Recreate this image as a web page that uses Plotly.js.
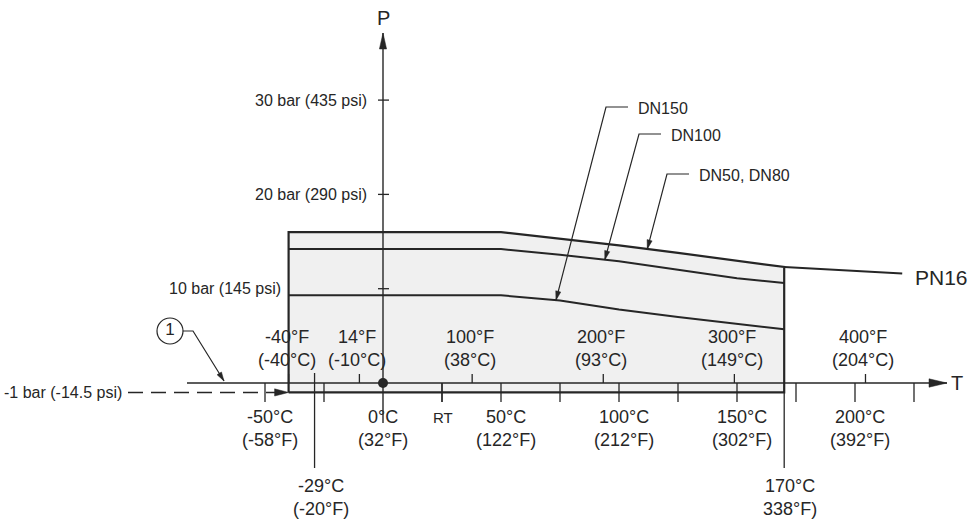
<!DOCTYPE html>
<html><head><meta charset="utf-8">
<script src="https://cdn.plot.ly/plotly-3.0.1.min.js"></script>
<style>html,body{margin:0;padding:0;background:#fff}#chart{width:973px;height:523px}</style>
</head><body><div id="chart"></div>
<script>
// ---------- data ----------
const curveTempsC   = [-40, 50, 75, 100, 125, 150, 170];
const pn16Bar       = [16.0, 16.0, 15.3, 14.6, 13.8, 13.0, 12.3];   // DN50, DN80
const dn100Bar      = [14.2, 14.2, 13.6, 12.9, 12.0, 11.1, 10.6];
const dn150Bar      = [9.3, 9.3, 8.75, 7.8, 7.0, 6.3, 5.7];
const pn16ExtTempsC = [170, 220];
const pn16ExtBar    = [12.3, 11.6];
const vacuumBar     = -1;
const celsiusTicks      = [-50, -25, 25, 50, 75, 100, 125, 150, 175, 200, 225];
const celsiusLabelTemps = [-50, 0, 50, 100, 150, 200];
const fahrenheitTicks   = [-40, 14, 100, 200, 300, 400];
const markerTempsC  = [-29, 170];
const markerLabels  = ['-29°C<br>(-20°F)', '170°C<br>338°F)'];
const roomTempC     = 25;
const roomTempLabel = 'RT';
const pressureTicks  = [10, 20, 30];
const pressureLabels = ['10 bar (145 psi)', '20 bar (290 psi)', '30 bar (435 psi)'];
const vacuumLabel    = '-1 bar (-14.5 psi)';
const seriesLabels   = ['DN150', 'DN100', 'DN50, DN80'];
const leaderTempsC   = [73.3, 94, 112];
const ratingLabel    = 'PN16';
const noteLabel      = '1';

// ---------- geometry helpers ----------
const W = 973, H = 523;
const O = {x: 383, y: 383};
const pxPerC = 2.36, pxPerBar = 9.43;
const xRange = [-O.x / pxPerC, (W - O.x) / pxPerC];
const yRange = [-(H - O.y) / pxPerBar, O.y / pxPerBar];
const tPx = px => (px - O.x) / pxPerC;
const pPx = py => (O.y - py) / pxPerBar;
const c2f = c => Math.round(c * 9 / 5 + 32);
const f2c = f => (f - 32) * 5 / 9;
function interp(xs, ys, x) {
  for (let i = 0; i < xs.length - 1; i++) {
    if (x >= xs[i] && x <= xs[i + 1]) return ys[i] + (ys[i + 1] - ys[i]) * (x - xs[i]) / (xs[i + 1] - xs[i]);
  }
  return ys[ys.length - 1];
}
function head(tipT, tipP, dx, dy, len, hw) {
  const n = Math.hypot(dx, dy), ux = dx / n, uy = dy / n;
  const pts = [[0, 0], [-ux * len - uy * hw, -uy * len + ux * hw], [-ux * len + uy * hw, -uy * len - ux * hw], [0, 0]];
  return pts.map(([a, b]) => [tipT + a / pxPerC, tipP - b / pxPerBar]);
}
const INK = '#262626', FILL = '#f0f0f0', FONT = 'Liberation Sans, Arial, sans-serif';

const traces = [];
const line = (x, y, w, extra) => traces.push(Object.assign({type: 'scatter', mode: 'lines', x, y, line: {color: INK, width: w}, hoverinfo: 'skip'}, extra || {}));

// filled rating box (bounded by PN16 curve)
const tMin = curveTempsC[0], tMax = curveTempsC[curveTempsC.length - 1];
line([tMin, ...curveTempsC, tMax, tMin], [vacuumBar, ...pn16Bar, vacuumBar, vacuumBar], 2.2,
     {fill: 'toself', fillcolor: FILL});
line(curveTempsC, dn100Bar, 2);
line(curveTempsC, dn150Bar, 2);
line(pn16ExtTempsC, pn16ExtBar, 2);

// axes
const tAxisEnd = tPx(947);
const pAxisEnd = pPx(33);
line([tPx(187), tAxisEnd], [0, 0], 1.4);
line([0, 0], [pPx(423), pAxisEnd], 1.4);

// ticks
const tx = [], ty = [];
celsiusTicks.forEach(c => { tx.push(c, c, null); ty.push(0, pPx(402), null); });
fahrenheitTicks.forEach(f => { const c = f2c(f); tx.push(c, c, null); ty.push(0, pPx(374), null); });
tx.push(roomTempC, roomTempC, null); ty.push(0, pPx(402), null);
pressureTicks.forEach(p => { tx.push(-5 / pxPerC, 6 / pxPerC, null); ty.push(p, p, null); });
line(tx, ty, 1.3);

// marker lines (-29 °C and 170 °C)
line([markerTempsC[0], markerTempsC[0]], [pPx(373), pPx(468)], 1.3);
line([markerTempsC[1], markerTempsC[1]], [vacuumBar, pPx(468)], 1.3);

// -1 bar dashed line
line([tPx(128), tMin - 12 / pxPerC], [vacuumBar, vacuumBar], 1.4, {line: {color: INK, width: 1.4, dash: '15px,8px'}});

// leaders
const lx = [], ly = [], heads = [];
const corners = [[606, 107], [639, 134], [667, 174]];
const series = [dn150Bar, dn100Bar, pn16Bar];
corners.forEach(([cx, cy], i) => {
  const tipT = leaderTempsC[i], tipP = interp(curveTempsC, series[i], tipT);
  lx.push(tPx(cx + 22), tPx(cx), tipT, null);
  ly.push(pPx(cy), pPx(cy), tipP, null);
  const tipPxX = O.x + tipT * pxPerC, tipPxY = O.y - tipP * pxPerBar;
  heads.push(head(tipT, tipP, tipPxX - cx, tipPxY - cy, 9, 2.6));
});
// circled note leader
const nTip = [tPx(224), pPx(381)];
lx.push(tPx(183), tPx(193), nTip[0], null); ly.push(pPx(331), pPx(331), nTip[1], null);
heads.push(head(nTip[0], nTip[1], 31, 50, 9, 2.6));
line(lx, ly, 1.2);

heads.push(head(tAxisEnd, 0, 1, 0, 18, 4.2));
heads.push(head(0, pAxisEnd, 0, -1, 16, 3.6));
heads.push(head(tMin, vacuumBar, 1, 0, 14, 3.6));
const hx = [], hy = [];
heads.forEach(h => { h.forEach(([a, b]) => { hx.push(a); hy.push(b); }); hx.push(null); hy.push(null); });
traces.push({type: 'scatter', mode: 'lines', x: hx, y: hy, fill: 'toself', fillcolor: INK, line: {color: INK, width: 0.5}, hoverinfo: 'skip'});

// origin dot and circled note
traces.push({type: 'scatter', mode: 'markers', x: [0], y: [0], marker: {color: INK, size: 10}, hoverinfo: 'skip'});
traces.push({type: 'scatter', mode: 'markers+text', x: [tPx(170)], y: [pPx(331)], text: [noteLabel],
  textposition: 'middle center', textfont: {family: FONT, size: 17, color: INK},
  marker: {symbol: 'circle-open', size: 26, color: INK, line: {width: 1.2, color: INK}}, hoverinfo: 'skip'});

// ---------- annotations ----------
const ann = [];
const txt = (x, y, text, size, o) => ann.push(Object.assign({x, y, xref: 'x', yref: 'y', text, showarrow: false,
  font: {family: FONT, size, color: INK}, xanchor: 'center', yanchor: 'middle'}, o || {}));
fahrenheitTicks.forEach(f => txt(f2c(f), 0, `${f}°F<br>(${Math.round(f2c(f))}°C)`, 18, {yshift: 35, xshift: -2}));
celsiusLabelTemps.forEach(c => txt(c, 0, `${c}°C<br>(${c2f(c)}°F)`, 18, {yshift: -45.5, xshift: c === 0 ? 0 : 5}));
markerTempsC.forEach((c, i) => txt(c, 0, markerLabels[i], 18, {yshift: -114, xshift: 6}));
txt(roomTempC, 0, roomTempLabel, 15, {yshift: -34, xshift: 1});
pressureTicks.forEach((p, i) => {
  const anchorT = p < Math.max(...pn16Bar) ? tMin : 0;
  txt(anchorT, p, pressureLabels[i], 16, {xanchor: 'right', xshift: anchorT === 0 ? -14 : -6});
});
txt(tPx(128), vacuumBar, vacuumLabel, 16, {xanchor: 'right', xshift: -4});
corners.forEach(([cx, cy], i) => txt(tPx(cx + 30), pPx(cy), seriesLabels[i], 16, {xanchor: 'left', yshift: -1}));
txt(pn16ExtTempsC[1], pn16ExtBar[1], ratingLabel, 21, {xanchor: 'left', xshift: 11, yshift: -4});
txt(tAxisEnd, 0, 'T', 20, {xanchor: 'left', xshift: 2});
txt(0, pAxisEnd, 'P', 20, {yanchor: 'bottom', yshift: 2});

Plotly.newPlot('chart', traces, {
  width: W, height: H, margin: {l: 0, r: 0, t: 0, b: 0},
  paper_bgcolor: '#fff', plot_bgcolor: '#fff', showlegend: false, hovermode: false,
  xaxis: {range: xRange, visible: false, fixedrange: true},
  yaxis: {range: yRange, visible: false, fixedrange: true},
  annotations: ann
}, {staticPlot: true, displayModeBar: false});
</script></body></html>
